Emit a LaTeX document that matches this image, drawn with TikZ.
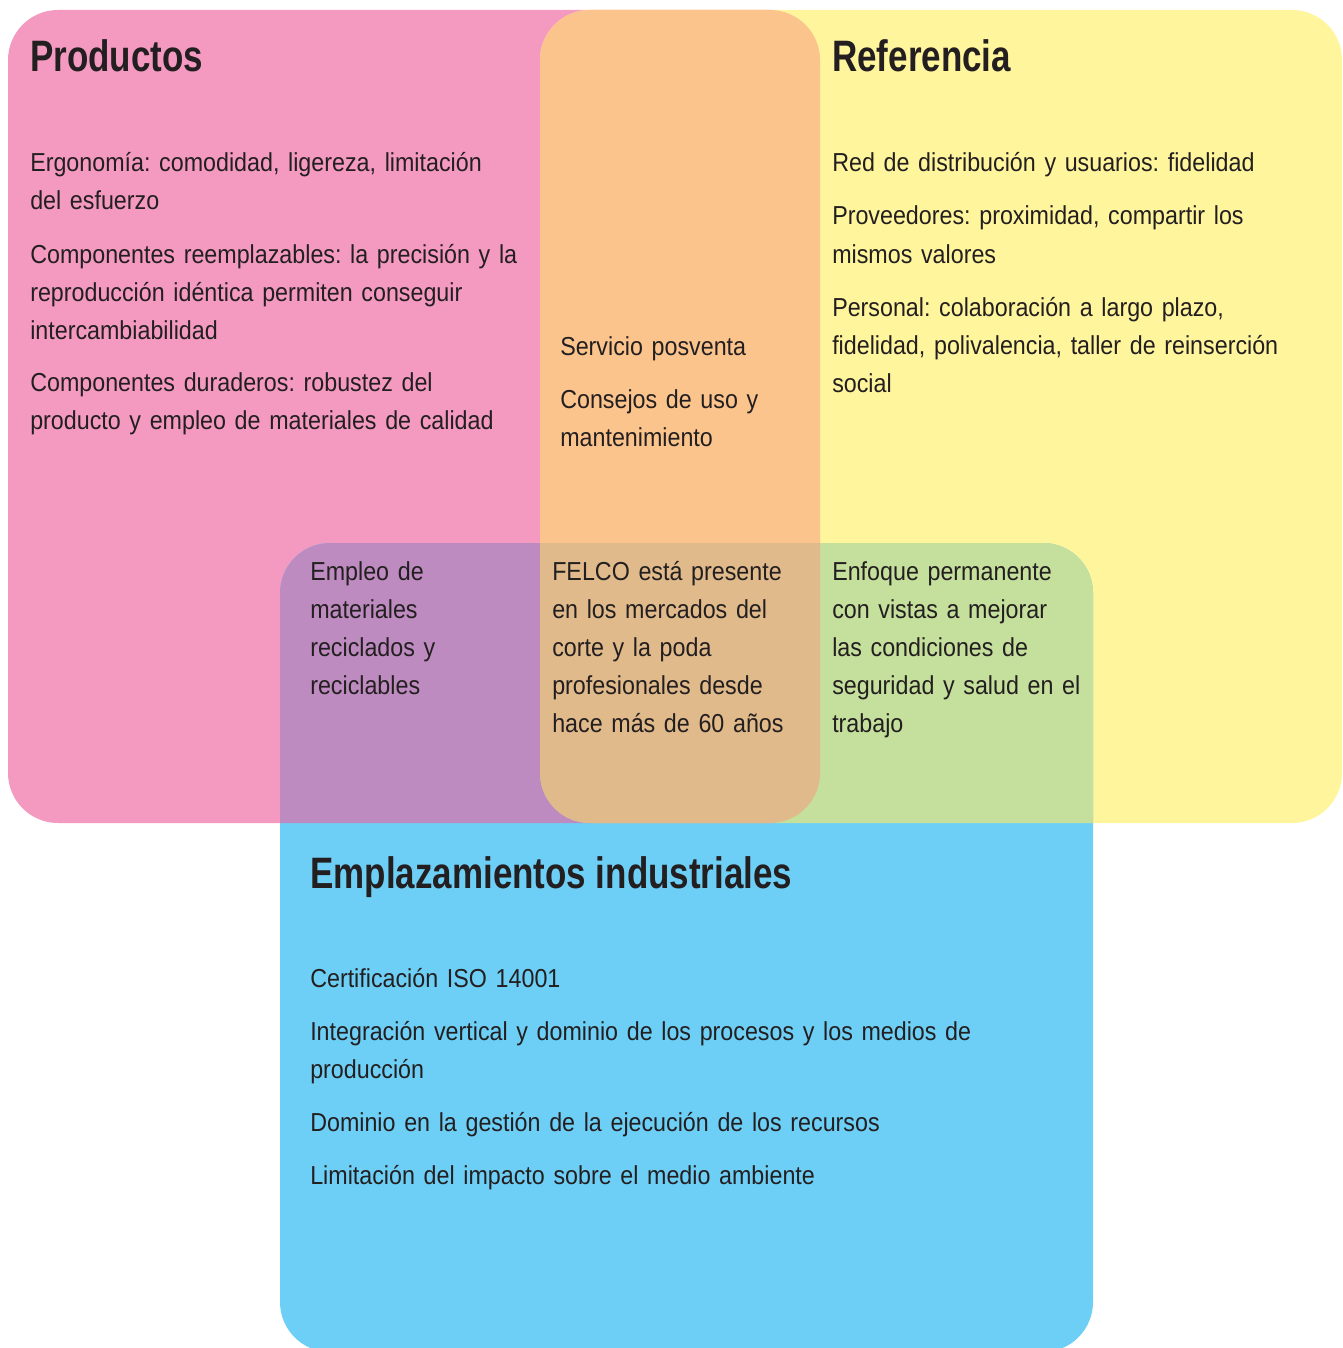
\documentclass[tikz,border=0pt]{standalone}
\usepackage{fontspec}
\setmainfont{Liberation Sans}[FakeStretch=0.895]
\newfontfamily\headfont{Liberation Sans}[FakeStretch=0.795]
\frenchspacing
\definecolor{ink}{HTML}{231F20}
\definecolor{prodpink}{HTML}{F49AC1}
\definecolor{refyellow}{HTML}{FFF59D}
\definecolor{siteblue}{HTML}{6DCFF6}
\definecolor{prodref}{HTML}{FBC48D}
\definecolor{prodsite}{HTML}{BD8BBF}
\definecolor{refsite}{HTML}{C5DF9C}
\definecolor{allthree}{HTML}{E0BA8A}
\begin{document}
\begin{tikzpicture}[x=0.75pt,y=-0.75pt,
  blob/.style={rounded corners=37.5pt},
  body/.style={anchor=base west,inner sep=0pt,text width=540pt,align=left,
    text=ink,font=\fontsize{19.5}{28.5}\selectfont},
  head/.style={anchor=base west,inner sep=0pt,text=ink,
    font=\headfont\fontsize{33}{36}\selectfont\bfseries}]
\useasboundingbox (0,0) rectangle (1342,1348);
% the three sets
\fill[prodpink,blob] (8,10) rectangle (820,823);
\fill[refyellow,blob] (540,10) rectangle (1342,823);
\begin{scope}
  \clip[blob] (8,10) rectangle (820,823);
  \fill[prodref,blob] (540,10) rectangle (1342,823);
\end{scope}
\fill[siteblue,blob] (280,543) rectangle (1093,1352);
\begin{scope}
  \clip[blob] (280,543) rectangle (1093,1352);
  \fill[prodsite,blob] (8,10) rectangle (820,823);
  \fill[refsite,blob] (540,10) rectangle (1342,823);
  \clip[blob] (8,10) rectangle (820,823);
  \fill[allthree,blob] (540,10) rectangle (1342,823);
\end{scope}
% Productos
\node[head] (prodhead) at (30,72) {Productos};
\node[body] (prod1) at (30,172) {Ergonomía: comodidad, ligereza, limitación\\del esfuerzo};
\node[body] (prod2) at (30,263) {Componentes reemplazables: la precisión y la\\reproducción idéntica permiten conseguir\\intercambiabilidad};
\node[body] (prod3) at (30,391) {Componentes duraderos: robustez del\\producto y empleo de materiales de calidad};
% Productos + Referencia
\node[body] (pr1) at (560,355) {Servicio posventa};
\node[body] (pr2) at (560,408) {Consejos de uso y\\mantenimiento};
% Referencia
\node[head] (refhead) at (832,72) {Referencia};
\node[body] (ref1) at (832,172) {Red de distribución y usuarios: fidelidad};
\node[body] (ref2) at (832,225) {Proveedores: proximidad, compartir los\\mismos valores};
\node[body] (ref3) at (832,316) {Personal: colaboración a largo plazo,\\fidelidad, polivalencia, taller de reinserción\\social};
% overlaps with the sites
\node[body] (ps1) at (310,580) {Empleo de\\materiales\\reciclados y\\reciclables};
\node[body] (prs1) at (552,580) {FELCO está presente\\en los mercados del\\corte y la poda\\profesionales desde\\hace más de 60 años};
\node[body] (rs1) at (832,580) {Enfoque permanente\\con vistas a mejorar\\las condiciones de\\seguridad y salud en el\\trabajo};
% Emplazamientos industriales
\node[head] (sitehead) at (310,888) {Emplazamientos industriales};
\node[body] (site1) at (310,987) {Certificación ISO 14001};
\node[body] (site2) at (310,1040) {Integración vertical y dominio de los procesos y los medios de\\producción};
\node[body] (site3) at (310,1131) {Dominio en la gestión de la ejecución de los recursos};
\node[body] (site4) at (310,1184) {Limitación del impacto sobre el medio ambiente};
\end{tikzpicture}
\end{document}
